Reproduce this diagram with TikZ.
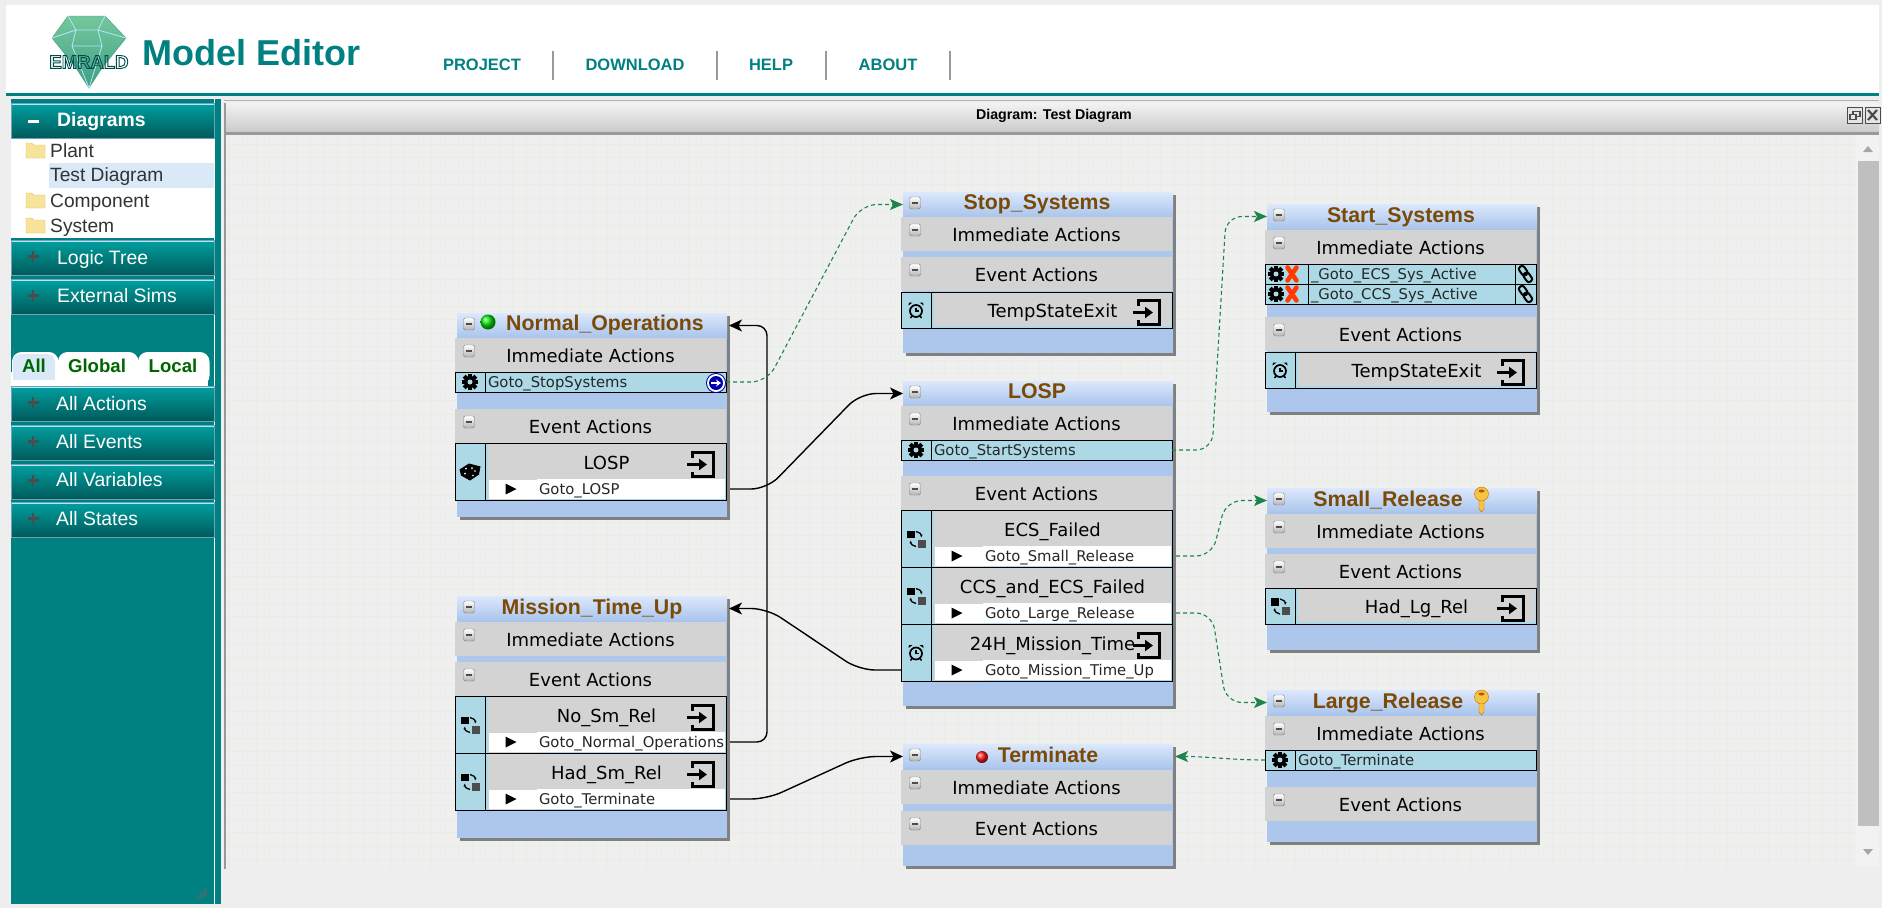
\documentclass[tikz,border=0pt]{standalone}
\usepackage{fontspec}
\setmainfont{Liberation Sans}
\newfontfamily\verdanafont{DejaVu Sans}
\usepackage{xcolor}
\usepackage{tikz}
\usetikzlibrary{arrows.meta,shadows}

\definecolor{pagegray}{HTML}{EEEEEE}
\definecolor{emraldteal}{HTML}{008080}
\definecolor{barlight}{HTML}{DCE8FC}
\definecolor{bardark}{HTML}{A9C4EC}
\definecolor{bodyblue}{HTML}{ADC6EC}
\definecolor{cellblue}{HTML}{ADD8E6}
\definecolor{sectiongray}{HTML}{D3D3D3}
\definecolor{titlebrown}{HTML}{7B4A05}
\definecolor{flowgreen}{HTML}{1E8449}
\definecolor{treeblue}{HTML}{D9E9F7}
\definecolor{gridgreen}{HTML}{E8EFE2}
\definecolor{keygold}{HTML}{F4C542}
\definecolor{folderfill}{HTML}{F7E39A}
\definecolor{folderline}{HTML}{D9BC5C}
\definecolor{gemtop}{HTML}{74C79C}
\definecolor{gembottom}{HTML}{3FA085}

\begin{document}
\begin{tikzpicture}[
    x=1pt, y=-1pt,
    % icons
    minusicon/.pic={
        \draw[draw=gray, rounded corners=1.5, top color=white, bottom color=gray!60] (-5.5,-6) rectangle (5.5,6);
        \fill[black!70] (-3,-1) rectangle (3,1);
    },
    gearicon/.pic={
        \foreach \a in {0,45,...,315} \fill[black, rotate=\a] (-2,-8.3) rectangle (2,-4);
        \fill[black] (0,0) circle (6);
        \fill[cellblue] (0,0) circle (2.5);
    },
    clockicon/.pic={
        \draw[black, line width=1.7] (0,1) circle (6);
        \draw[black, line width=1.2] (0,-2.5) -- (0,1) -- (2.5,1);
        \fill[black] (-7.5,-4.5) -- (-3.5,-7.5) -- (-7,-7.5) -- cycle;
        \fill[black] (7.5,-4.5) -- (3.5,-7.5) -- (7,-7.5) -- cycle;
        \draw[black, line width=1.5] (-4,6) -- (-5.5,8) (4,6) -- (5.5,8);
    },
    dieicon/.pic={
        \fill[black] (-10.5,-2) -- (-1,-8) -- (10.5,-5) -- (9,3) -- (0,9) -- (-9,4) -- cycle;
        \fill[white] (-4,-3) circle (1) (2,-3.5) circle (1) (-5,2) circle (1) (5,-0.5) circle (.9) (3,4) circle (.9);
    },
    swapicon/.pic={
        \fill[black] (-9,-8) rectangle (-1.5,-0.5);
        \fill[black!70] (2,1) rectangle (10,9);
        \draw[black, line width=1.3, -{Stealth[length=3pt]}] (0,-7) to[bend left=50] (5,-1);
        \draw[black, line width=1.3, -{Stealth[length=3pt]}] (0,8) to[bend left=50] (-5,2);
    },
    exiticon/.pic={
        \draw[black, line width=3] (-7.5,-7) -- (-7.5,-12) -- (13,-12) -- (13,12) -- (-7.5,12) -- (-7.5,7);
        \draw[black, line width=3, -{Triangle[length=8pt,width=11pt]}] (-13,0) -- (7,0);
    },
    crossicon/.pic={
        \draw[line width=4.5, orange!45!red, line cap=round] (-4.5,-6.5) -- (4.5,6.5) (4.5,-6.5) -- (-4.5,6.5);
    },
    linkicon/.pic={
        \draw[black, rotate=-55, line width=2, rounded corners=2.5] (-9,-3) rectangle (1,3);
        \draw[black, rotate=-55, line width=2, rounded corners=2.5] (-1,-3) rectangle (9,3);
    },
    keyicon/.pic={
        \fill[keygold, draw=orange!80!black] (-2.5,4) -- (2.5,4) -- (2.5,15) -- (0,18) -- (-2.5,15) -- cycle;
        \fill[keygold, draw=orange!80!black] (0,0) ellipse (7 and 7);
        \fill[orange!70!black] (0,-3) ellipse (3 and 1.5);
    },
    goicon/.pic={
        \fill[blue!60!black] (0,0) circle (10);
        \fill[white] (0,0) circle (9);
        \fill[blue!70!black] (0,0) circle (7);
        \draw[white, line width=1.6, -{Stealth[length=5pt,width=7pt]}] (-5,0) -- (5,0);
    },
    foldericon/.pic={
        \draw[draw=folderline, fill=folderfill] (-9.5,-7) -- (-4,-7) -- (-2,-5) -- (9.5,-5) -- (9.5,8) -- (-9.5,8) -- cycle;
    },
    % states
    statebox/.style={anchor=north west, minimum width=270, inner sep=0, outer sep=0, fill=bodyblue,
        drop shadow={shadow xshift=3pt, shadow yshift=-3pt, opacity=1, fill=gray}},
    statebar/.style={anchor=north west, minimum width=270, minimum height=25, inner sep=0, outer sep=0,
        top color=barlight, bottom color=bardark,
        path picture={\pic at ([shift={(12,11)}]path picture bounding box.north west) {minusicon};}},
    titletext/.style={font=\fontsize{21.3}{24}\selectfont\bfseries, text=titlebrown, text height=15, text depth=4, inner sep=0},
    section/.style={anchor=north west, minimum width=271, minimum height=34, inner sep=0, outer sep=0, fill=sectiongray,
        font=\verdanafont\fontsize{18}{20}\selectfont, text height=14, text depth=0,
        path picture={\pic at ([shift={(14,13)}]path picture bounding box.north west) {minusicon};}},
    % cells
    iconcell/.style={anchor=north west, draw=black, fill=cellblue, inner sep=0, outer sep=0, minimum width=30, minimum height=20},
    gearcell/.style={iconcell, path picture={\pic at (path picture bounding box.center) {gearicon};}},
    clockcell/.style={iconcell, path picture={\pic at (path picture bounding box.center) {clockicon};}},
    diecell/.style={iconcell, path picture={\pic at (path picture bounding box.center) {dieicon};}},
    swapcell/.style={iconcell, path picture={\pic at (path picture bounding box.center) {swapicon};}},
    twocell/.style={iconcell, minimum width=43, path picture={
        \pic at ([shift={(11,10)}]path picture bounding box.north west) {gearicon};
        \pic at ([shift={(27,10)}]path picture bounding box.north west) {crossicon};}},
    linkcell/.style={iconcell, minimum width=21, path picture={\pic at (path picture bounding box.center) {linkicon};}},
    actionrow/.style={anchor=north west, draw=black, fill=cellblue, inner xsep=3, inner ysep=0, outer sep=0,
        minimum height=20, align=left, text=black!85,
        font=\verdanafont\fontsize{14.8}{16}\selectfont, text height=11, text depth=1},
    eventframe/.style={anchor=north west, draw=black, fill=cellblue, inner sep=0, outer sep=0, minimum width=241},
    plainname/.style={anchor=north west, fill=sectiongray, inner sep=0, outer sep=0, minimum width=237, minimum height=35,
        font=\verdanafont\fontsize{18}{20}\selectfont, text height=15, text depth=0},
    eventname/.style={plainname,
        path picture={\pic at ([shift={(-25,3)}]path picture bounding box.east) {exiticon};}},
    gotomark/.style={anchor=north west, fill=white, draw=sectiongray, inner sep=0, outer sep=0, minimum width=49, minimum height=20,
        path picture={\fill[black] ([shift={(-7,-5.5)}]path picture bounding box.center) -- ++(11,5.5) -- ++(-11,5.5) -- cycle;}},
    gotorow/.style={anchor=north west, fill=white, inner xsep=2, inner ysep=0, outer sep=0, minimum height=20, align=left,
        text width=184, text=black!85, font=\verdanafont\fontsize{14.8}{16}\selectfont, text height=11, text depth=1},
    % connectors
    flowline/.style={line width=1.4, rounded corners=16, -{Stealth[length=13pt,width=12pt,inset=3.5pt]}},
    dashline/.style={line width=1.1, rounded corners=16, flowgreen, dash pattern=on 4pt off 3pt,
        -{Stealth[length=13pt,width=11pt,inset=3pt]}},
    % page
    sidebtn/.style={anchor=north west, minimum width=203, minimum height=35, inner sep=0, outer sep=0, draw=cyan!40!gray,
        top color=emraldteal!75!cyan, bottom color=emraldteal!70!black,
        path picture={
            \fill[white!70!cyan] (path picture bounding box.north west) rectangle ([yshift=-2pt]path picture bounding box.north east);
            \fill[black!70] ([shift={(22,-1)}]path picture bounding box.west) ++(-5.5,-1.3) rectangle ++(11,2.6);
            \fill[black!70] ([shift={(22,-1)}]path picture bounding box.west) ++(-1.3,-5.5) rectangle ++(2.6,11);}},
    opensbtn/.style={sidebtn, path picture={
            \fill[white!70!cyan] (path picture bounding box.north west) rectangle ([yshift=-2pt]path picture bounding box.north east);
            \fill[white] ([shift={(22,1)}]path picture bounding box.west) ++(-5.5,-1.5) rectangle ++(11,3);}},
    sidetext/.style={anchor=west, inner sep=0, text=white, font=\fontsize{19.4}{22}\selectfont, text height=14, text depth=4},
    treetext/.style={anchor=west, inner sep=0, text=black!80, font=\fontsize{19.2}{22}\selectfont, text height=14, text depth=4},
    navtext/.style={inner sep=0, text=emraldteal, font=\fontsize{16.5}{18}\selectfont\bfseries},
    navbar/.style={draw=gray!80, line width=1.5},
    tabbox/.style={anchor=north west, draw=white, line width=1.5, rounded corners=9, inner sep=0, fill=white, minimum height=32},
    tabtext/.style={inner sep=0, text=green!40!black, font=\fontsize{18.6}{20}\selectfont\bfseries},
    winbtn/.style={anchor=north west, draw=black!70, line width=1, fill=gray!20, inner sep=0, minimum width=15, minimum height=16}
]

\useasboundingbox (0,0) rectangle (1882,908);
\fill[pagegray] (0,0) rectangle (1882,908);

% Header
\fill[white] (6,5) rectangle (1879,93);
\fill[emraldteal] (6,93) rectangle (1879,96);
\draw[draw=gembottom, top color=gemtop, bottom color=gembottom] (68,16) -- (105,16) -- (126,38) -- (102,68) -- (89,88) -- (76,68) -- (52,38) -- cycle;
\draw[cyan!30!white, line width=.8] (68,16) -- (76,30) -- (98,30) -- (105,16) (52,38) -- (76,30) -- (72,46) -- (102,46) -- (98,30) -- (126,38) (72,46) -- (89,88) -- (102,46);
\node[inner sep=0, text=teal!60!black, font=\fontsize{18.5}{20}\selectfont\bfseries] (logoText) at (89,62) {\special{pdf:literal direct 1 Tr 0.9 w}EMRALD\special{pdf:literal direct 0 Tr}};
\node[anchor=west, inner sep=0, text=emraldteal, font=\fontsize{36}{40}\selectfont\bfseries] (logoTitle) at (142,53) {Model Editor};
\node[navtext] (navProject) at (482,65) {PROJECT};
\node[navtext] (navDownload) at (635,65) {DOWNLOAD};
\node[navtext] (navHelp) at (771,65) {HELP};
\node[navtext] (navAbout) at (888,65) {ABOUT};
\draw[navbar] (553,51) -- (553,80);
\draw[navbar] (717,51) -- (717,80);
\draw[navbar] (826,51) -- (826,80);
\draw[navbar] (950,51) -- (950,80);

% Sidebar
\fill[emraldteal] (11,99) rectangle (221,904);
\fill[white] (214,99) rectangle (215,904);
\fill[white] (11,138) rectangle (214,238);
\fill[treeblue] (49,163) rectangle (214,188);
\node[opensbtn] (diagramsBtn) at (11,103) {};
\node[sidetext, font=\fontsize{19.4}{22}\selectfont\bfseries] (diagramsText) at (57,121) {Diagrams};
\pic at (35.5,150) {foldericon};
\node[treetext] (plantText) at (50,152) {Plant};
\node[treetext] (testText) at (50,176) {Test Diagram};
\pic at (35.5,200) {foldericon};
\node[treetext] (componentText) at (50,202) {Component};
\pic at (35.5,225) {foldericon};
\node[treetext] (systemText) at (50,227) {System};
\node[sidebtn] (logicBtn) at (11,240) {};
\node[sidetext] (logicText) at (57,259) {Logic Tree};
\node[sidebtn] (simsBtn) at (11,279) {};
\node[sidetext] (simsText) at (57,297) {External Sims};
\node[tabbox, minimum width=45] (allTab) at (12,352) {};
\node[tabbox, minimum width=79] (globalTab) at (58,352) {};
\node[tabbox, minimum width=70] (localTab) at (138,352) {};
\fill[white] (11,372) rectangle (208,386);
\fill[treeblue, rounded corners=8] (13,357) -- (13,380) -- (55,380) -- (55,354) -- (13,354) -- cycle;
\fill[treeblue] (13,370) rectangle (55,380);
\node[tabtext] (allText) at (34,366) {All};
\node[tabtext] (globalText) at (97,366) {Global};
\node[tabtext] (localText) at (173,366) {Local};
\node[sidebtn] (actionsBtn) at (11,386) {};
\node[sidetext] (actionsText) at (56,405) {All Actions};
\node[sidebtn] (eventsBtn) at (11,425) {};
\node[sidetext] (eventsText) at (56,443) {All Events};
\node[sidebtn] (variablesBtn) at (11,464) {};
\node[sidetext] (variablesText) at (56,481) {All Variables};
\node[sidebtn] (statesBtn) at (11,502) {};
\node[sidetext] (statesText) at (56,520) {All States};
\draw[black!60, line width=.8] (197,898) -- (207,888) (200,898) -- (207,891) (203,898) -- (207,894);

% Window
\fill[gray!60] (224,100) rectangle (1879,101);
\shade[top color=gray!10, bottom color=gray!40] (224,103) rectangle (1879,131);
\fill[gray!80] (224,132) rectangle (1879,135);
\fill[gray!80] (224,103) rectangle (226,869);
\node[inner sep=0, font=\fontsize{14.2}{16}\selectfont\bfseries] (windowTitle) at (1054,115.5) {Diagram: Test Diagram};
\node[winbtn] (restoreBtn) at (1847,107) {};
\draw[black!70, line width=1.2] (restoreBtn.center) ++(-5,-1) rectangle ++(6,5);
\draw[black!70, line width=1.2] (restoreBtn.center) ++(-2,-1) -- ++(0,-3) -- ++(7,0) -- ++(0,5) -- ++(-4,0);
\node[winbtn] (closeBtn) at (1865,107) {};
\draw[black!70, line width=2.2] (closeBtn.north west) ++(3,3) -- ++(9,10) ++(0,-10) -- ++(-9,10);

% Canvas
\fill[pagegray!95!white] (226,135) rectangle (1856,869);
\foreach \gx in {229,242.5,...,1856} \draw[gridgreen, line width=1] (\gx,136) -- (\gx,869);
\foreach \gy in {144,157.5,...,869} \draw[gridgreen, line width=1] (227,\gy) -- (1856,\gy);
\fill[gray!10] (1856,135) rectangle (1879,866);
\fill[gray!50] (1858,161) rectangle (1879,826);
\fill[gray!70] (1868,146) -- (1873,152) -- (1863,152) -- cycle;
\fill[gray!70] (1868,855) -- (1873,849) -- (1863,849) -- cycle;

% Normal_Operations
\node[statebox, minimum height=204] (normalBox) at (457,313) {};
\node[statebar] (normalBar) at (457,313) {};
\shade[ball color=green!90!black] (488,322) circle (7.5);
\node[titletext] (normalTitle) at (605,325) {Normal\_Operations};
\node[section] (normalImm) at (455,338) {Immediate Actions};
\node[gearcell] (normalGear) at (455,372) {};
\node[actionrow, text width=235] (normalGotoStop) at (485,372) {Goto\_StopSystems};
\pic at (716,383) {goicon};
\node[section] (normalEvt) at (455,409) {Event Actions};
\node[diecell, minimum height=57] (normalDie) at (455,443) {};
\node[eventframe, minimum height=57] (normalLospFrame) at (485,443) {};
\node[eventname] (normalLosp) at (488,444) {LOSP};
\node[gotomark] (normalLospMark) at (488,479) {};
\node[gotorow] (normalLospGoto) at (537,479) {Goto\_LOSP};

% Mission_Time_Up
\node[statebox, minimum height=242] (missionBox) at (457,596) {};
\node[statebar] (missionBar) at (457,596) {};
\node[titletext] (missionTitle) at (592,609) {Mission\_Time\_Up};
\node[section] (missionImm) at (455,622) {Immediate Actions};
\node[section] (missionEvt) at (455,662) {Event Actions};
\node[swapcell, minimum height=57] (missionNoIcon) at (455,696) {};
\node[eventframe, minimum height=57] (missionNoFrame) at (485,696) {};
\node[eventname] (missionNo) at (488,697) {No\_Sm\_Rel};
\node[gotomark] (missionNoMark) at (488,732) {};
\node[gotorow] (missionNoGoto) at (537,732) {Goto\_Normal\_Operations};
\node[swapcell, minimum height=57] (missionHadIcon) at (455,753) {};
\node[eventframe, minimum height=57] (missionHadFrame) at (485,753) {};
\node[eventname] (missionHad) at (488,754) {Had\_Sm\_Rel};
\node[gotomark] (missionHadMark) at (488,789) {};
\node[gotorow] (missionHadGoto) at (537,789) {Goto\_Terminate};

% Stop_Systems
\node[statebox, minimum height=161] (stopBox) at (903,192) {};
\node[statebar] (stopBar) at (903,192) {};
\node[titletext] (stopTitle) at (1037,204) {Stop\_Systems};
\node[section] (stopImm) at (901,217) {Immediate Actions};
\node[section] (stopEvt) at (901,257) {Event Actions};
\node[clockcell, minimum height=36] (stopClock) at (901,292) {};
\node[eventframe, minimum height=36] (stopExitFrame) at (931,292) {};
\node[eventname, minimum height=33] (stopExit) at (934,293) {TempStateExit};

% LOSP
\node[statebox, minimum height=325] (lospBox) at (903,381) {};
\node[statebar] (lospBar) at (903,381) {};
\node[titletext] (lospTitle) at (1037,393) {LOSP};
\node[section] (lospImm) at (901,406) {Immediate Actions};
\node[gearcell] (lospGear) at (901,440) {};
\node[actionrow, text width=235] (lospGotoStart) at (931,440) {Goto\_StartSystems};
\node[section] (lospEvt) at (901,476) {Event Actions};
\node[swapcell, minimum height=57] (lospEcsIcon) at (901,510) {};
\node[eventframe, minimum height=57] (lospEcsFrame) at (931,510) {};
\node[plainname] (lospEcs) at (934,511) {ECS\_Failed};
\node[gotomark] (lospEcsMark) at (934,546) {};
\node[gotorow] (lospEcsGoto) at (983,546) {Goto\_Small\_Release};
\node[swapcell, minimum height=57] (lospCcsIcon) at (901,567) {};
\node[eventframe, minimum height=57] (lospCcsFrame) at (931,567) {};
\node[plainname] (lospCcs) at (934,568) {CCS\_and\_ECS\_Failed};
\node[gotomark] (lospCcsMark) at (934,603) {};
\node[gotorow] (lospCcsGoto) at (983,603) {Goto\_Large\_Release};
\node[clockcell, minimum height=57] (lospTimeIcon) at (901,624) {};
\node[eventframe, minimum height=57] (lospTimeFrame) at (931,624) {};
\node[eventname] (lospTime) at (934,625) {24H\_Mission\_Time};
\node[gotomark] (lospTimeMark) at (934,660) {};
\node[gotorow] (lospTimeGoto) at (983,660) {Goto\_Mission\_Time\_Up};
\coordinate (lospTimeOut) at (901,670);

% Terminate
\node[statebox, minimum height=122] (terminateBox) at (903,744) {};
\node[statebar] (terminateBar) at (903,744) {};
\shade[ball color=red!90!white] (982,757) circle (6);
\node[titletext] (terminateTitle) at (1048,757) {Terminate};
\node[section] (terminateImm) at (901,770) {Immediate Actions};
\node[section] (terminateEvt) at (901,811) {Event Actions};

% Start_Systems
\node[statebox, minimum height=208] (startBox) at (1267,204) {};
\node[statebar] (startBar) at (1267,204) {};
\node[titletext] (startTitle) at (1401,217) {Start\_Systems};
\node[section] (startImm) at (1265,230) {Immediate Actions};
\node[twocell] (startEcsIcon) at (1265,264) {};
\node[actionrow, text width=201] (startEcs) at (1308,264) {\_Goto\_ECS\_Sys\_Active};
\node[linkcell] (startEcsLink) at (1515,264) {};
\node[twocell] (startCcsIcon) at (1265,284) {};
\node[actionrow, text width=201] (startCcs) at (1308,284) {\_Goto\_CCS\_Sys\_Active};
\node[linkcell] (startCcsLink) at (1515,284) {};
\node[section] (startEvt) at (1265,317) {Event Actions};
\node[clockcell, minimum height=36] (startClock) at (1265,352) {};
\node[eventframe, minimum height=36] (startExitFrame) at (1295,352) {};
\node[eventname, minimum height=33] (startExit) at (1298,353) {TempStateExit};

% Small_Release
\node[statebox, minimum height=162] (smallBox) at (1267,488) {};
\node[statebar] (smallBar) at (1267,488) {};
\node[titletext] (smallTitle) at (1388,501) {Small\_Release};
\pic at (1481.5,494) {keyicon};
\node[section] (smallImm) at (1265,514) {Immediate Actions};
\node[section] (smallEvt) at (1265,554) {Event Actions};
\node[swapcell, minimum height=36] (smallSwap) at (1265,588) {};
\node[eventframe, minimum height=36] (smallExitFrame) at (1295,588) {};
\node[eventname, minimum height=33] (smallExit) at (1298,589) {Had\_Lg\_Rel};

% Large_Release
\node[statebox, minimum height=152] (largeBox) at (1267,690) {};
\node[statebar] (largeBar) at (1267,690) {};
\node[titletext] (largeTitle) at (1388,703) {Large\_Release};
\pic at (1481.5,697) {keyicon};
\node[section] (largeImm) at (1265,716) {Immediate Actions};
\node[gearcell] (largeGear) at (1265,750) {};
\node[actionrow, text width=235] (largeGotoTerm) at (1295,750) {Goto\_Terminate};
\node[section] (largeEvt) at (1265,787) {Event Actions};

% Connectors
\draw[flowline] ([xshift=5pt]normalLospGoto.east) -- ++(37,0) -- ([xshift=-43pt]lospBar.west) -- (lospBar.west);
\draw[flowline, rounded corners=10] ([xshift=5pt]missionNoGoto.east) -- ++(37,0) -- ([xshift=40pt]normalBar.east) -- ([xshift=2pt]normalBar.east);
\draw[flowline] (lospTimeOut) -- ++(-42,0) -- ([xshift=40pt]missionBar.east) -- ([xshift=2pt]missionBar.east);
\draw[flowline] ([xshift=5pt]missionHadGoto.east) -- ++(37,0) -- ([xshift=-43pt]terminateBar.west) -- (terminateBar.west);
\draw[dashline] (normalGotoStop.east) -- ++(41,0) -- ([xshift=-42pt]stopBar.west) -- (stopBar.west);
\draw[dashline] (lospGotoStart.east) -- ++(40,0) -- ([xshift=-41pt]startBar.west) -- (startBar.west);
\draw[dashline] ([xshift=5pt]lospEcsGoto.east) -- ++(36,0) -- ([xshift=-41pt]smallBar.west) -- (smallBar.west);
\draw[dashline] ([xshift=5pt]lospCcsGoto.east) -- ++(36,0) -- ([xshift=-41pt]largeBar.west) -- (largeBar.west);
\draw[dashline] (largeGear.west) to[out=180, in=0] ([xshift=2pt]terminateBar.east);

\end{tikzpicture}
\end{document}
